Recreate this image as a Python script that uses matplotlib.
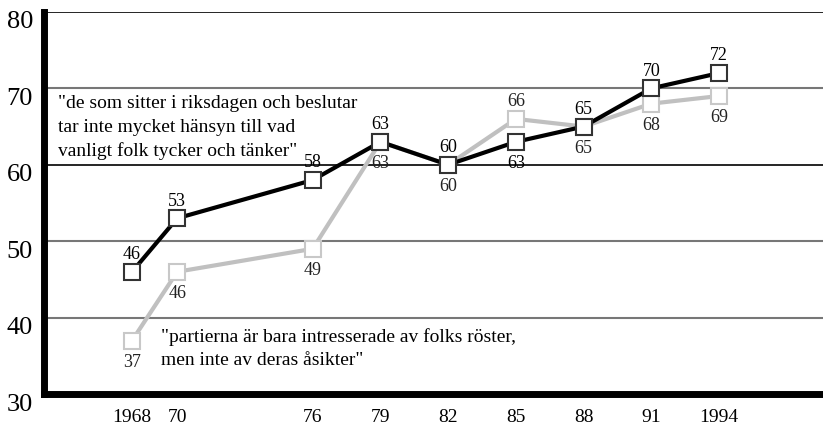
import matplotlib
matplotlib.use("Agg")
import matplotlib.pyplot as plt
import matplotlib.transforms as mtransforms

years = [1968, 1970, 1976, 1979, 1982, 1985, 1988, 1991, 1994]
year_labels = ["1968", "70", "76", "79", "82", "85", "88", "91", "1994"]
riksdag = [46, 53, 58, 63, 60, 63, 65, 70, 72]
partier = [37, 46, 49, 63, 60, 66, 65, 68, 69]
# label placement: True = above marker
riksdag_above = [True, True, True, True, True, False, True, True, True]
partier_above = [False, False, False, False, False, True, False, False, False]
yticks = [30, 40, 50, 60, 70, 80]
riksdag_text = ['"de som sitter i riksdagen och beslutar',
                'tar inte mycket hänsyn till vad',
                'vanligt folk tycker och tänker"']
partier_text = ['"partierna är bara intresserade av folks röster,',
                'men inte av deras åsikter"']

plt.rcParams['font.family'] = ['Liberation Serif', 'DejaVu Serif']

fig = plt.figure(figsize=(8.23, 4.31), dpi=100)
ax = fig.add_axes([0.0535, 0.0835, 0.9465, 0.8865])
ax.set_xlim(1964.1, 1998.6)
ax.set_ylim(30, 80)

grid_colors = {40: '#777777', 50: '#777777', 60: '#000000', 70: '#777777', 80: '#000000'}
for v, c in grid_colors.items():
    ax.axhline(v, color=c, lw=1.5 if c != '#000000' else 1.2, zorder=1)

ax.plot(years, partier, color='#c0c0c0', lw=3, marker='s', ms=11.5,
        mfc='white', mec='#c8c8c8', mew=1.5, zorder=3)
ax.plot(years, riksdag, color='black', lw=3, marker='s', ms=11.5,
        mfc='white', mec='#333333', mew=1.5, zorder=4)

for x, y, ab in zip(years, riksdag, riksdag_above):
    ax.annotate(str(y), (x, y), xytext=(0, 7 if ab else -9), textcoords='offset points',
                ha='center', va='bottom' if ab else 'top', fontsize=13, color='black', zorder=5)
for x, y, ab in zip(years, partier, partier_above):
    ax.annotate(str(y), (x, y), xytext=(0, 7 if ab else -9), textcoords='offset points',
                ha='center', va='bottom' if ab else 'top', fontsize=13, color='#222222', zorder=5)

line_step = 3.14
for i, line in enumerate(riksdag_text):
    ax.text(1964.7, 68.2 - i * line_step, line, ha='left', va='center', fontsize=14, zorder=6)
for i, line in enumerate(partier_text):
    ax.text(1969.3, 37.6 - i * line_step, line, ha='left', va='center', fontsize=14, zorder=6)

for s in ['top', 'right']:
    ax.spines[s].set_visible(False)
ax.spines['left'].set_linewidth(5)
ax.spines['bottom'].set_linewidth(5)

ax.set_xticks(years)
ax.set_xticklabels(year_labels, fontsize=14)
ax.set_yticks(yticks)
ax.set_yticklabels([str(v) for v in yticks], fontsize=19)
ax.tick_params(axis='both', length=0)
ax.tick_params(axis='x', pad=10)
ax.tick_params(axis='y', pad=8)
offset = mtransforms.ScaledTranslation(0, -7/100, fig.dpi_scale_trans)
for lab in ax.get_yticklabels():
    lab.set_transform(lab.get_transform() + offset)

fig.savefig('out.png', dpi=100)
